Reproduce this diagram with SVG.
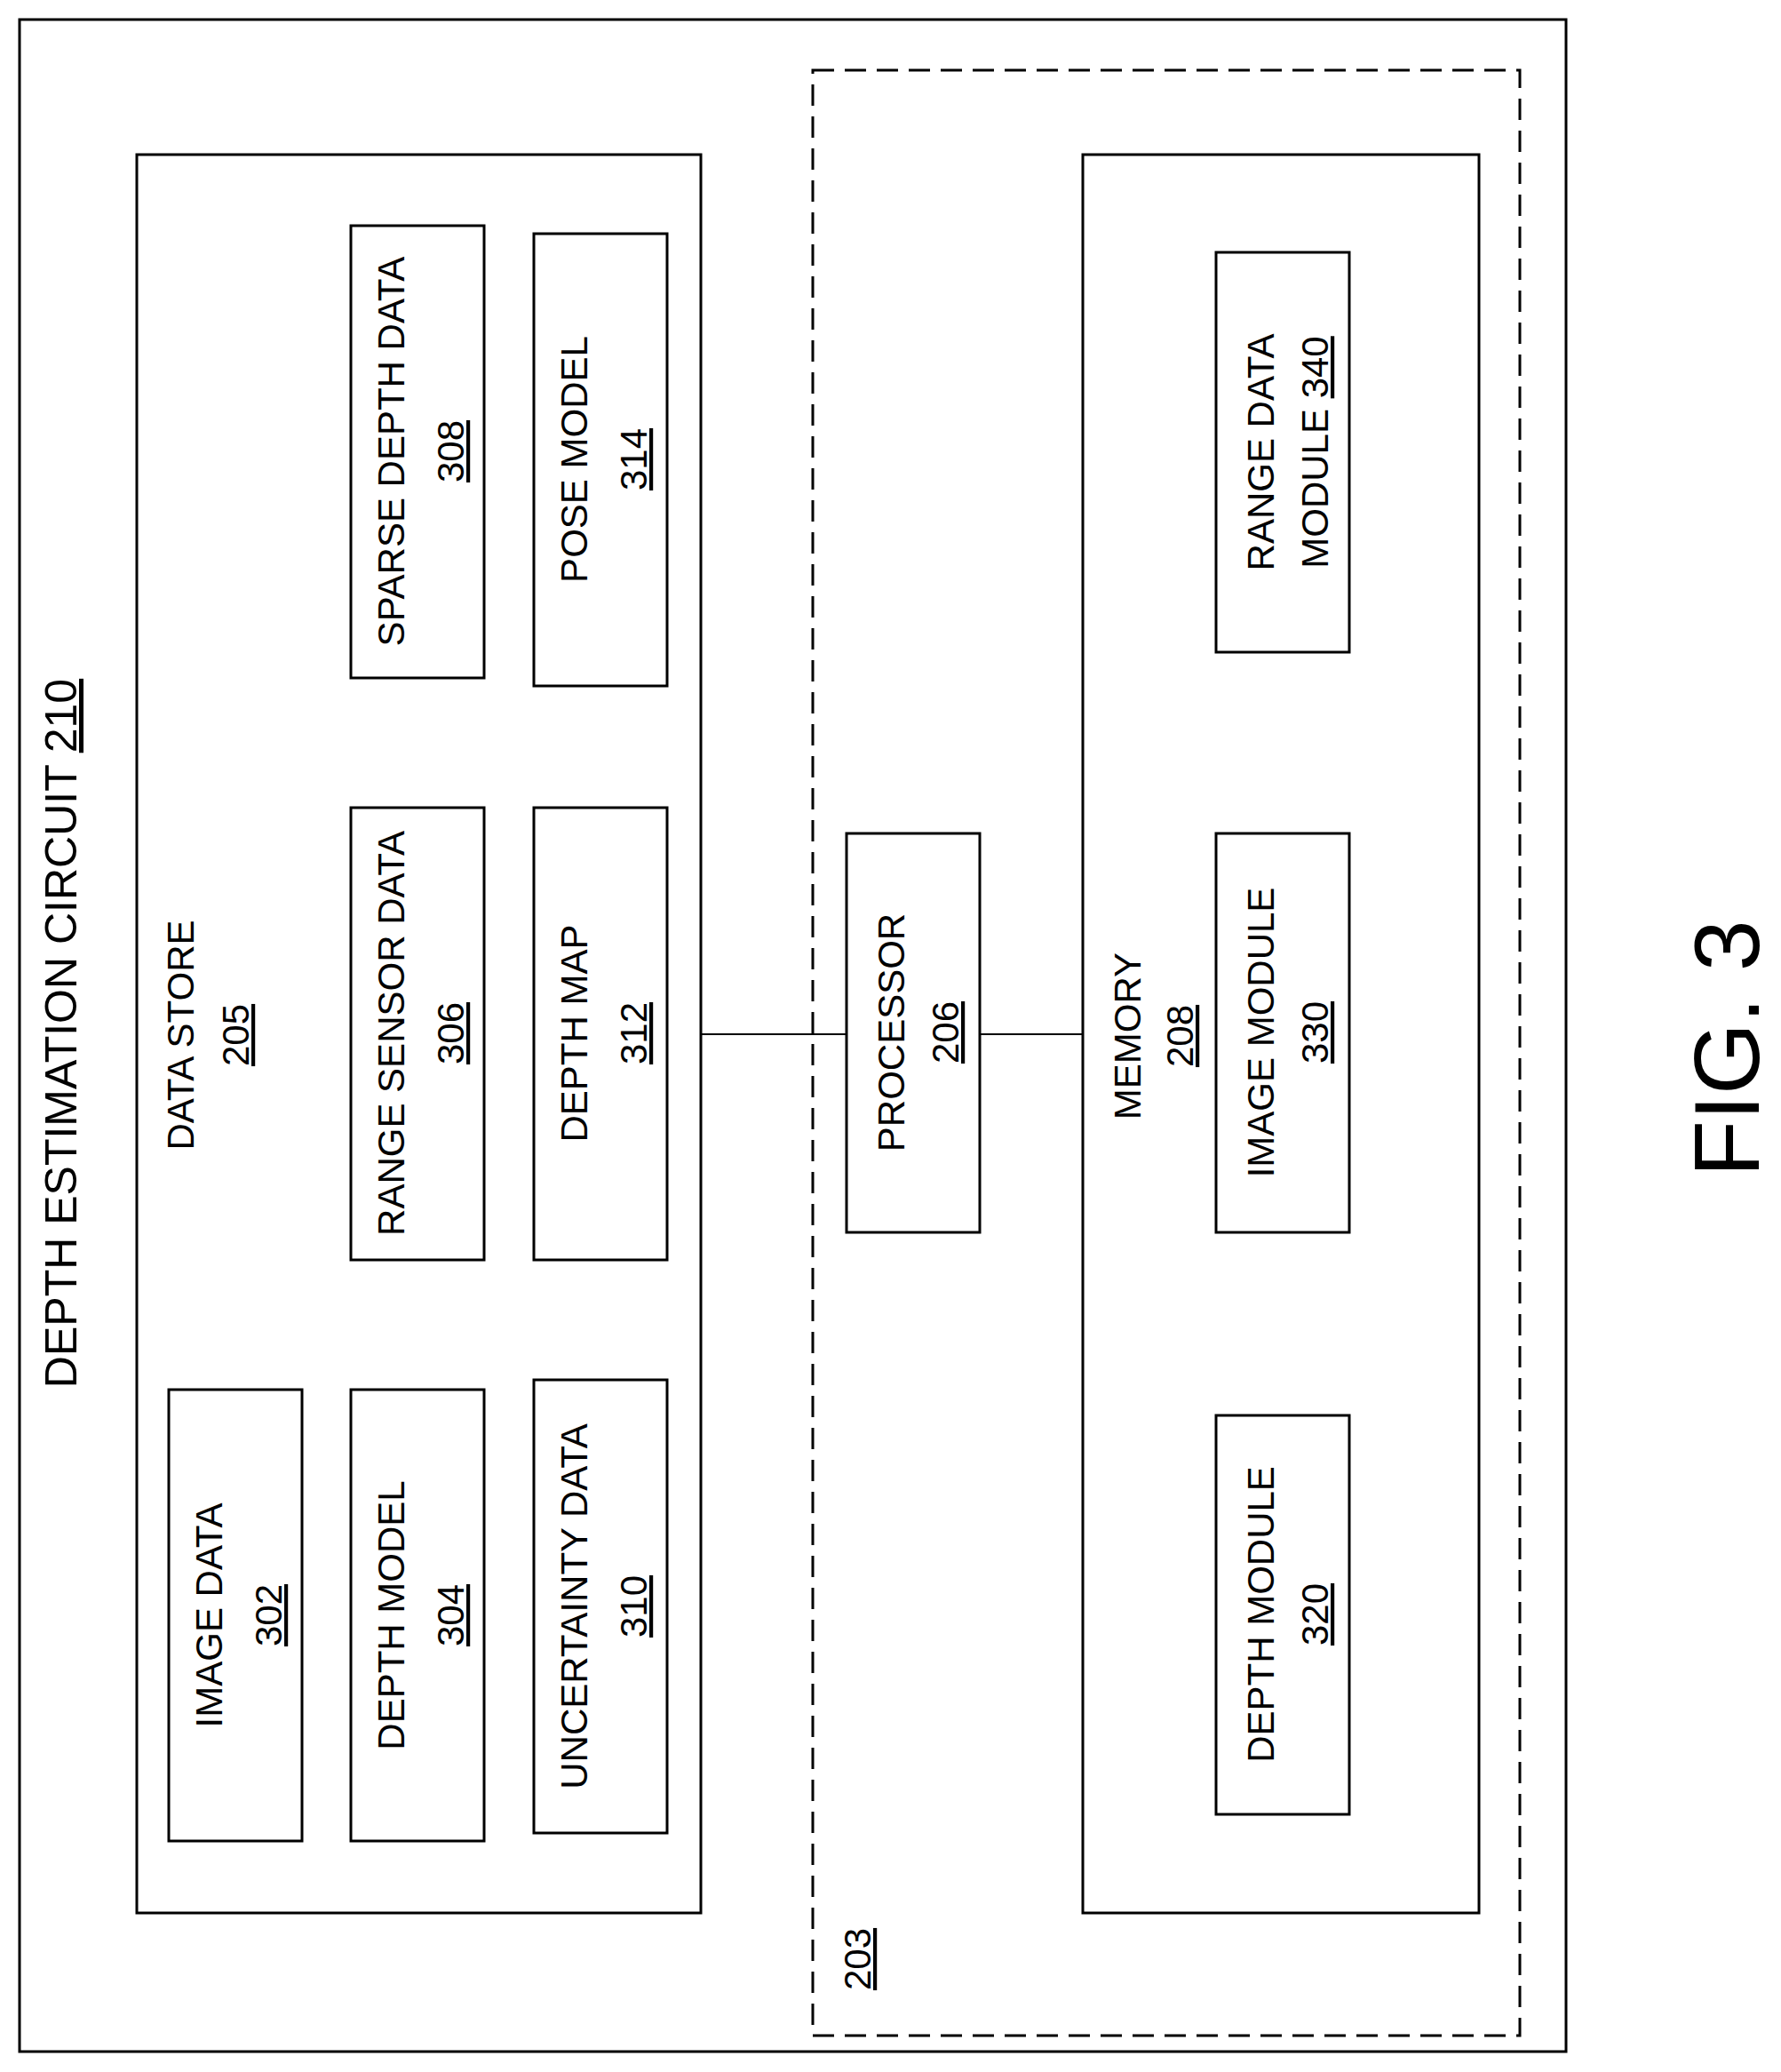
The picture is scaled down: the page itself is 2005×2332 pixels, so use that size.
<svg xmlns="http://www.w3.org/2000/svg" width="2005" height="2332" viewBox="0 0 2005 2332">
<style>
.b{fill:#fff;stroke:#000;stroke-width:3}
.t{font-family:"Liberation Sans",Arial,sans-serif;font-size:42px;text-anchor:middle;fill:#000}
.u{text-decoration:underline}
</style>
<rect width="2005" height="2332" fill="#fff"/>
<g id="circuit"><rect class="b" x="22" y="22" width="1741" height="2287"/>
<text class="t" style="font-size:50px" transform="translate(86,1163) rotate(-90)">DEPTH ESTIMATION CIRCUIT <tspan class="u">210</tspan></text></g>
<g id="sys203"><rect x="915" y="79" width="796" height="2212" fill="none" stroke="#000" stroke-width="3" stroke-dasharray="24,12"/>
<text class="t" transform="translate(980,2205) rotate(-90)"><tspan class="u">203</tspan></text></g>
<g id="connectors"><line x1="789" y1="1164" x2="953" y2="1164" stroke="#000" stroke-width="2"/><line x1="1103" y1="1164" x2="1219" y2="1164" stroke="#000" stroke-width="2"/></g>
<g id="datastore"><rect class="b" x="154" y="174" width="635" height="1979"/>
<text class="t" transform="translate(218,1165) rotate(-90)">DATA STORE</text>
<text class="t" transform="translate(280,1165) rotate(-90)"><tspan class="u">205</tspan></text></g>
<g id="memory"><rect class="b" x="1219" y="174" width="446" height="1979"/>
<text class="t" transform="translate(1284,1166) rotate(-90)">MEMORY</text>
<text class="t" transform="translate(1343,1166) rotate(-90)"><tspan class="u">208</tspan></text></g>
<g id="processor"><rect class="b" x="953" y="938" width="150" height="449"/>
<text class="t" transform="translate(1018,1162) rotate(-90)">PROCESSOR</text>
<text class="t" transform="translate(1079,1162) rotate(-90)"><tspan class="u">206</tspan></text></g>
<g id="n302"><rect class="b" x="190" y="1564" width="150" height="508"/>
<text class="t" transform="translate(250,1818) rotate(-90)">IMAGE DATA</text>
<text class="t" transform="translate(317,1818) rotate(-90)"><tspan class="u">302</tspan></text></g>
<g id="n304"><rect class="b" x="395" y="1564" width="150" height="508"/>
<text class="t" transform="translate(455,1818) rotate(-90)">DEPTH MODEL</text>
<text class="t" transform="translate(522,1818) rotate(-90)"><tspan class="u">304</tspan></text></g>
<g id="n310"><rect class="b" x="601" y="1553" width="150" height="510"/>
<text class="t" transform="translate(661,1808) rotate(-90)">UNCERTAINTY DATA</text>
<text class="t" transform="translate(728,1808) rotate(-90)"><tspan class="u">310</tspan></text></g>
<g id="n306"><rect class="b" x="395" y="909" width="150" height="509"/>
<text class="t" transform="translate(455,1163) rotate(-90)">RANGE SENSOR DATA</text>
<text class="t" transform="translate(522,1163) rotate(-90)"><tspan class="u">306</tspan></text></g>
<g id="n312"><rect class="b" x="601" y="909" width="150" height="509"/>
<text class="t" transform="translate(661,1163) rotate(-90)">DEPTH MAP</text>
<text class="t" transform="translate(728,1163) rotate(-90)"><tspan class="u">312</tspan></text></g>
<g id="n308"><rect class="b" x="395" y="254" width="150" height="509"/>
<text class="t" transform="translate(455,508) rotate(-90)">SPARSE DEPTH DATA</text>
<text class="t" transform="translate(522,508) rotate(-90)"><tspan class="u">308</tspan></text></g>
<g id="n314"><rect class="b" x="601" y="263" width="150" height="509"/>
<text class="t" transform="translate(661,517) rotate(-90)">POSE MODEL</text>
<text class="t" transform="translate(728,517) rotate(-90)"><tspan class="u">314</tspan></text></g>
<g id="n340"><rect class="b" x="1369" y="284" width="150" height="450"/>
<text class="t" transform="translate(1434,509) rotate(-90)">RANGE DATA</text>
<text class="t" transform="translate(1495,509) rotate(-90)">MODULE <tspan class="u">340</tspan></text></g>
<g id="n330"><rect class="b" x="1369" y="938" width="150" height="449"/>
<text class="t" transform="translate(1434,1162) rotate(-90)">IMAGE MODULE</text>
<text class="t" transform="translate(1495,1162) rotate(-90)"><tspan class="u">330</tspan></text></g>
<g id="n320"><rect class="b" x="1369" y="1593" width="150" height="449"/>
<text class="t" transform="translate(1434,1817) rotate(-90)">DEPTH MODULE</text>
<text class="t" transform="translate(1495,1817) rotate(-90)"><tspan class="u">320</tspan></text></g>
<text class="t" style="font-size:104px" transform="translate(1980,1180) rotate(-90)">FIG. 3</text>
</svg>
